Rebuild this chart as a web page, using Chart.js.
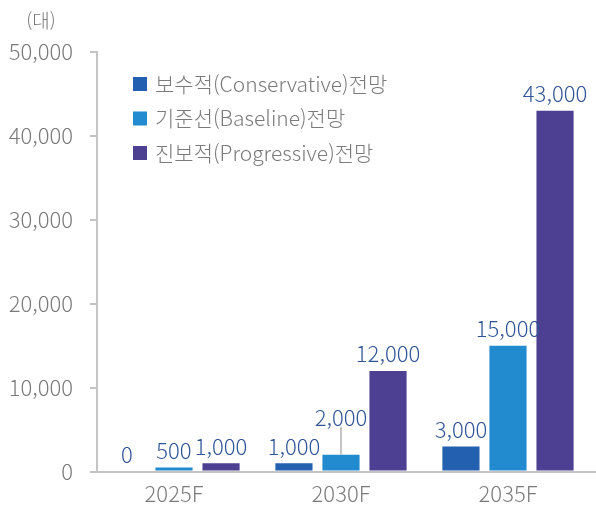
<!DOCTYPE html>
<html lang="ko">
<head>
    <meta charset="UTF-8">
    <meta name="viewport" content="width=device-width, initial-scale=1.0">
    <title>전망</title>
    <style>
      html, body { margin: 0; padding: 0; background: #fff; }
      #wrap { width: 596px; height: 517px; }
    </style>
</head>
<body>
    <div id="wrap">
        <canvas id="myChart"></canvas>
    </div>

    <script src="https://cdn.jsdelivr.net/npm/chart.js"></script>

    <script>
      // data
      const years = ['2025F', '2030F', '2035F'];
      const conservative = [0, 1000, 3000];
      const baseline = [500, 2000, 15000];
      const progressive = [1000, 12000, 43000];
      const yTicks = [0, 10000, 20000, 30000, 40000, 50000];
      const seriesNames = ['보수적(Conservative)전망', '기준선(Baseline)전망', '진보적(Progressive)전망'];
      const unitLabel = '(대)';

      const gray = '#7a7a7a';
      const axisGray = '#c4c4c4';
      const labelBlue = '#2f5597';
      const fontFamily = "'Noto Sans CJK KR', 'Noto Sans', sans-serif";

      Chart.defaults.font.family = fontFamily;
      Chart.defaults.font.size = 22;
      Chart.defaults.font.weight = 300;
      Chart.defaults.color = gray;

      function fmt(v) {
        return v.toLocaleString('en-US');
      }

      function toPoints(arr) {
        return arr.map((v, i) => ({ x: i, y: v }));
      }

      // value labels above bars, with a leader line for the one that is lifted
      const lifted = { '1-1': 20 };
      const barLabels = {
        id: 'barLabels',
        afterDatasetsDraw(chart) {
          const ctx = chart.ctx;
          ctx.save();
          ctx.font = '300 22px ' + fontFamily;
          ctx.fillStyle = labelBlue;
          ctx.textAlign = 'center';
          ctx.textBaseline = 'bottom';
          chart.data.datasets.forEach((ds, di) => {
            const meta = chart.getDatasetMeta(di);
            meta.data.forEach((bar, i) => {
              const lift = lifted[di + '-' + i] || 0;
              const y = bar.y - 6 - lift;
              ctx.fillText(fmt(ds.data[i].y), bar.x, y);
              if (lift) {
                ctx.strokeStyle = axisGray;
                ctx.lineWidth = 2;
                ctx.beginPath();
                ctx.moveTo(bar.x, bar.y);
                ctx.lineTo(bar.x, y - 2);
                ctx.stroke();
              }
            });
          });
          ctx.restore();
        }
      };

      // legend inside the plot, top left
      const innerLegend = {
        id: 'innerLegend',
        afterDraw(chart) {
          const ctx = chart.ctx;
          const area = chart.chartArea;
          ctx.save();
          ctx.font = '300 21px ' + fontFamily;
          ctx.textBaseline = 'middle';
          ctx.textAlign = 'left';
          chart.data.datasets.forEach((ds, i) => {
            const cy = area.top + 32 + i * 34.5;
            const bx = area.left + 36;
            ctx.fillStyle = ds.backgroundColor;
            ctx.fillRect(bx, cy - 7, 14, 14);
            ctx.fillStyle = gray;
            ctx.fillText(ds.label, bx + 22, cy);
          });
          // unit
          ctx.textAlign = 'center';
          ctx.font = '300 19px ' + fontFamily;
          ctx.fillText(unitLabel, 41, area.top - 31);
          ctx.restore();
        }
      };

      const ctx = document.getElementById('myChart');

      let chart = new Chart(ctx, {
        type: 'bar',
        data: {
          datasets: [{
            label: seriesNames[0],
            data: toPoints(conservative),
            backgroundColor: '#2361b0'
          }, {
            label: seriesNames[1],
            data: toPoints(baseline),
            backgroundColor: '#228bcf'
          }, {
            label: seriesNames[2],
            data: toPoints(progressive),
            backgroundColor: '#4d3f92'
          }]
        },
        options: {
          responsive: true,
          maintainAspectRatio: false,
          animation: false,
          categoryPercentage: 0.845,
          barPercentage: 0.79,
          layout: { padding: { top: 52, right: 0, left: 0, bottom: 1 } },
          plugins: {
            legend: { display: false },
            tooltip: { enabled: false }
          },
          scales: {
            x: {
              type: 'linear',
              offset: false,
              min: -0.461,
              max: 2.527,
              grid: { display: false, drawTicks: false },
              border: { color: axisGray, width: 2 },
              afterBuildTicks(scale) {
                scale.ticks = years.map((y, i) => ({ value: i }));
              },
              ticks: {
                padding: 9,
                color: gray,
                callback: (v) => years[v] || ''
              }
            },
            y: {
              min: 0,
              max: 50000,
              afterBuildTicks(scale) {
                scale.ticks = yTicks.map(v => ({ value: v }));
              },
              afterFit(scale) {
                scale.width = 97;
              },
              grid: { drawOnChartArea: false, tickLength: 7, color: axisGray, lineWidth: 2 },
              border: { color: axisGray, width: 2 },
              ticks: {
                padding: 17,
                color: gray,
                callback: (v) => fmt(v)
              }
            }
          }
        },
        plugins: [barLabels, innerLegend]
      });
    </script>
</body>
</html>
